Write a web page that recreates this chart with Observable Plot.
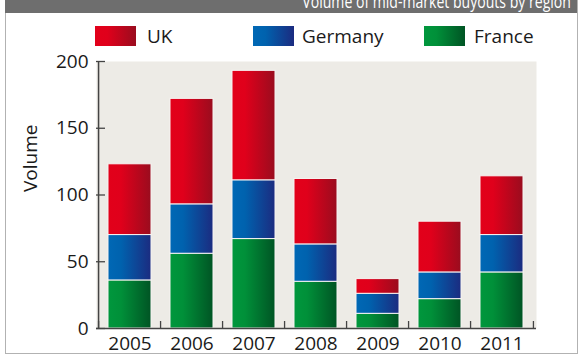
<!DOCTYPE html>
<html>
<head>
<meta charset="utf-8">
<script src="https://cdn.jsdelivr.net/npm/d3@7"></script>
<script src="https://cdn.jsdelivr.net/npm/@observablehq/plot@0.6"></script>
<style>
  html, body { margin: 0; padding: 0; background: #ffffff; }
  body { font-family: "Open Sans", "Noto Sans", sans-serif; color: #1a1a1a; }
  #wrap { position: relative; width: 580px; height: 358px; overflow: hidden; }
  #border { position: absolute; left: 5px; top: 0; width: 571px; height: 353px; border: 1px solid #b2b2b2; border-top: none; }
  #title { position: absolute; left: 5px; top: 0; width: 572px; height: 13px; background: #6e6e6e; overflow: hidden; }
  #title span { position: absolute; right: 6px; top: -8px; font-size: 19px; line-height: 19px; color: #ffffff; white-space: nowrap; transform: scaleX(0.74); transform-origin: right center; }
  .sw { position: absolute; top: 26px; width: 41px; height: 20px; }
  .lt { position: absolute; top: 23px; font-size: 19px; line-height: 26px; color: #1a1a1a; white-space: nowrap; }
  #chart { position: absolute; left: 0; top: 50px; }
</style>
</head>
<body>
<div id="wrap">
  <div id="border"></div>
  <div id="title"><span id="titletext"></span></div>
  <div id="legend"></div>
  <div id="chart"></div>
</div>
<script>
const titleText = "Volume of mid-market buyouts by region";
const years = ["2005", "2006", "2007", "2008", "2009", "2010", "2011"];
const regions = ["France", "Germany", "UK"];
const france  = [36, 56, 67, 35, 11, 22, 42];
const germany = [34, 37, 44, 28, 15, 20, 28];
const uk      = [53, 79, 82, 49, 11, 38, 44];
const yTicks = [0, 50, 100, 150, 200];
const legendOrder = ["UK", "Germany", "France"];

const grad = {
  UK:      ["#e2001a", "#e0001b", "#9a0c1e"],
  Germany: ["#0068b5", "#0062ae", "#1b2b80"],
  France:  ["#00973d", "#009039", "#005424"]
};

document.getElementById("titletext").textContent = titleText;

// legend
const legendPos = {UK: [95, 147], Germany: [253, 302], France: [424, 474]};
const legend = document.getElementById("legend");
for (const r of legendOrder) {
  const [sx, tx] = legendPos[r];
  const sw = document.createElement("div");
  sw.className = "sw";
  sw.style.left = sx + "px";
  sw.style.background = `linear-gradient(to right, ${grad[r][0]} 0%, ${grad[r][1]} 30%, ${grad[r][2]} 100%)`;
  legend.appendChild(sw);
  const t = document.createElement("div");
  t.className = "lt";
  t.style.left = tx + "px";
  t.textContent = r;
  legend.appendChild(t);
}

const series = {France: france, Germany: germany, UK: uk};
const data = [];
for (const r of regions) years.forEach((y, i) => data.push({year: y, region: r, value: series[r][i]}));

const W = 580, H = 308, mL = 96, mR = 44, mT = 11, mB = 30;
const frameW = W - mL - mR, frameH = H - mT - mB;
const step = frameW / years.length;

const plot = Plot.plot({
  width: W,
  height: H,
  marginLeft: mL,
  marginRight: mR,
  marginTop: mT,
  marginBottom: mB,
  style: {fontFamily: '"Open Sans", "Noto Sans", sans-serif', fontSize: "19px", color: "#1a1a1a", background: "transparent", overflow: "visible"},
  x: {domain: years, paddingInner: 0.3, paddingOuter: 0.15, label: null},
  y: {domain: [0, 200], ticks: yTicks, label: null},
  color: {domain: regions, range: regions.map(r => `url(#g${r})`)},
  marks: [
    Plot.frame({fill: "#edebe6", stroke: null}),
    Plot.barY(data, Plot.stackY({x: "year", y: "value", fill: "region", order: regions, stroke: "#f7f4f2", strokeWidth: 1})),
    Plot.ruleY(yTicks, {y: d => d, insetRight: frameW - 9, stroke: "#444", strokeWidth: 1.3}),
    Plot.ruleX(years, {x: d => d, dx: -step / 2, insetTop: frameH - 7, stroke: "#444", strokeWidth: 1.3}),
    Plot.ruleX([years[years.length - 1]], {x: d => d, dx: step / 2, insetTop: frameH - 7, stroke: "#444", strokeWidth: 1.3}),
    Plot.ruleX([years[0]], {x: d => d, dx: -step / 2, stroke: "#444", strokeWidth: 1.5}),
    Plot.ruleY([0], {stroke: "#444", strokeWidth: 1.5}),
    Plot.axisY({ticks: yTicks, tickSize: 0, tickPadding: 8, fontSize: 19, label: null}),
    Plot.axisX({tickSize: 0, tickPadding: 8, fontSize: 19, label: null}),
    Plot.text(["Volume"], {frameAnchor: "left", dx: -66, dy: -3, rotate: -90, fontSize: 19, fill: "#1a1a1a"})
  ]
});

// gradients
const svg = d3.select(plot);
const defs = svg.insert("defs", ":first-child");
for (const r of regions) {
  const lg = defs.append("linearGradient").attr("id", "g" + r).attr("x1", "0").attr("x2", "1").attr("y1", "0").attr("y2", "0");
  lg.append("stop").attr("offset", "0%").attr("stop-color", grad[r][0]);
  lg.append("stop").attr("offset", "30%").attr("stop-color", grad[r][1]);
  lg.append("stop").attr("offset", "100%").attr("stop-color", grad[r][2]);
}
document.getElementById("chart").appendChild(plot);
</script>
</body>
</html>
